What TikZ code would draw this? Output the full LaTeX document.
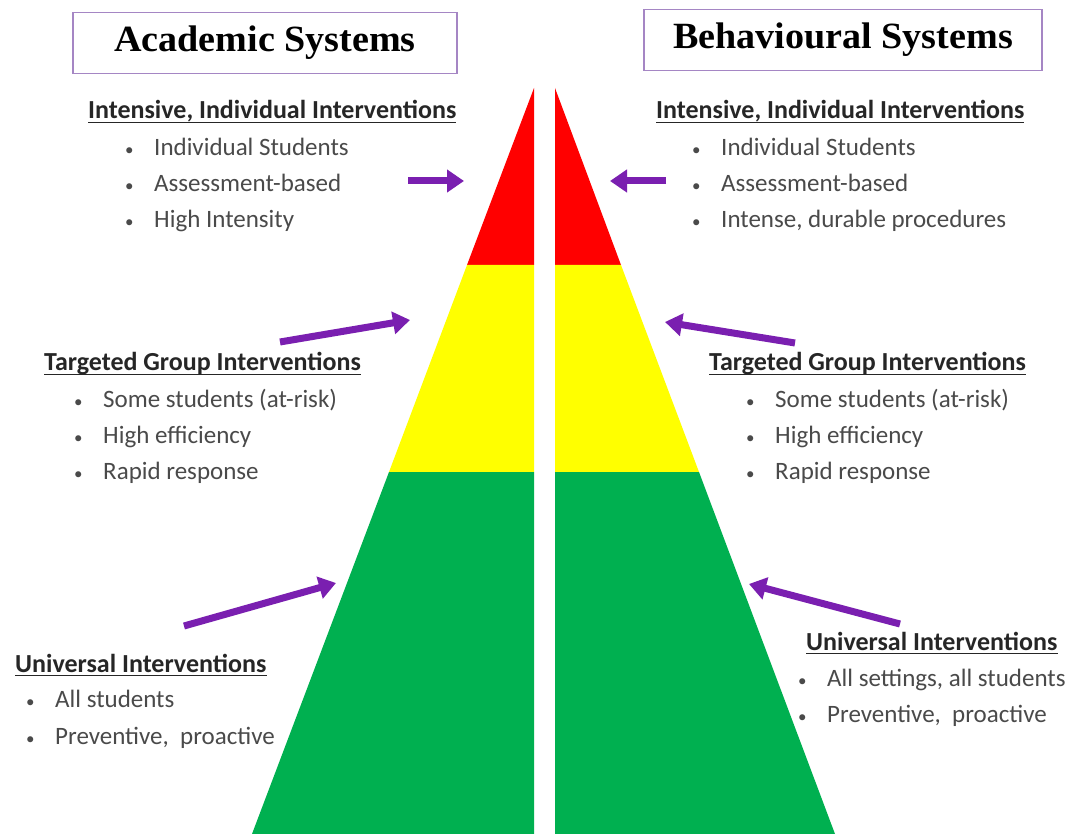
\documentclass[tikz,border=0pt]{standalone}
\usepackage{fontspec}
\setmainfont{Carlito}
\newfontfamily\titlefont[FakeStretch=1.03]{Liberation Serif}
\usetikzlibrary{arrows.meta}
\definecolor{pred}{HTML}{FF0000}
\definecolor{pyellow}{HTML}{FFFF00}
\definecolor{pgreen}{HTML}{00B050}
\definecolor{arrowpurple}{HTML}{7A1FB0}
\definecolor{boxpurple}{HTML}{A586C4}
\definecolor{headgray}{HTML}{262626}
\definecolor{itemgray}{HTML}{4A4A4A}
\tikzset{
  titlebox/.style={draw=boxpurple, line width=1.8pt, inner sep=0pt, font=\titlefont\bfseries\fontsize{37}{40}\selectfont, text=black},
  hd/.style={anchor=base west, inner sep=0pt, font=\fontsize{26}{30}\selectfont\bfseries, text=headgray},
  it/.style={anchor=base west, inner sep=0pt, font=\fontsize{25}{30}\selectfont, text=itemgray},
  ul/.style={draw=headgray, line width=1.6pt},
  arr/.style={draw=arrowpurple, line width=7pt, -{Triangle[length=17pt,width=22pt]}},
}
\newcommand\bul[1]{\makebox[29pt][l]{\fontsize{17}{20}\selectfont•}#1}
\begin{document}
\begin{tikzpicture}[x=1pt,y=-1pt]
\useasboundingbox (0,0) rectangle (1077,834);
\fill[white] (0,0) rectangle (1077,834);
% left half pyramid
\fill[pred] (534,88) -- (534,265) -- (467,265) -- cycle;
\fill[pyellow] (534,265) -- (534,472) -- (389,472) -- (467,265) -- cycle;
\fill[pgreen] (534,472) -- (534,834) -- (252,834) -- (389,472) -- cycle;
% right half pyramid
\fill[pred] (555,88) -- (555,265) -- (621,265) -- cycle;
\fill[pyellow] (555,265) -- (555,472) -- (699,472) -- (621,265) -- cycle;
\fill[pgreen] (555,472) -- (555,834) -- (835,834) -- (699,472) -- cycle;
% title boxes
\node[titlebox, minimum width=384pt, minimum height=61pt] (tA) at (265,43) {Academic Systems};
\node[titlebox, minimum width=398pt, minimum height=61pt] (tB) at (843,40) {Behavioural Systems};
% left top
\node[hd] (lh1) at (88,119) {Intensive, Individual Interventions};
\node[it] (l1a) at (125,156) {\bul{Individual Students}};
\node[it] (l1b) at (125,192) {\bul{Assessment-based}};
\node[it] (l1c) at (125,228) {\bul{High Intensity}};
% left middle
\node[hd] (lh2) at (44,371) {Targeted Group Interventions};
\node[it] (l2a) at (74,407) {\bul{Some students (at-risk)}};
\node[it] (l2b) at (74,443) {\bul{High efficiency}};
\node[it] (l2c) at (74,479) {\bul{Rapid response}};
% left bottom
\node[hd] (lh3) at (15,672) {Universal Interventions};
\node[it] (l3a) at (26,707) {\bul{All students}};
\node[it] (l3b) at (26,744) {\bul{Preventive,\ \ proactive}};
% right top
\node[hd] (rh1) at (656,119) {Intensive, Individual Interventions};
\node[it] (r1a) at (692,156) {\bul{Individual Students}};
\node[it] (r1b) at (692,192) {\bul{Assessment-based}};
\node[it] (r1c) at (692,228) {\bul{Intense, durable procedures}};
% right middle
\node[hd] (rh2) at (709,371) {Targeted Group Interventions};
\node[it] (r2a) at (746,407) {\bul{Some students (at-risk)}};
\node[it] (r2b) at (746,443) {\bul{High efficiency}};
\node[it] (r2c) at (746,479) {\bul{Rapid response}};
% right bottom
\node[hd] (rh3) at (806,650) {Universal Interventions};
\node[it] (r3a) at (798,686) {\bul{All settings, all students}};
\node[it] (r3b) at (798,722) {\bul{Preventive,\ \ proactive}};
% underlines
\foreach \h in {lh1,lh2,lh3,rh1,rh2,rh3}{
  \draw[ul] ([yshift=-3.5pt]\h.base west) -- ([yshift=-3.5pt]\h.base east);
}
% arrows
\coordinate (a1s) at (408,181); \coordinate (a1e) at (464,181);
\coordinate (a2s) at (280,342); \coordinate (a2e) at (410,320);
\coordinate (a3s) at (184,626); \coordinate (a3e) at (336,583);
\coordinate (b1s) at (666,181); \coordinate (b1e) at (610,181);
\coordinate (b2s) at (795,343); \coordinate (b2e) at (665,322);
\coordinate (b3s) at (900,624); \coordinate (b3e) at (749,584);
\draw[arr] (a1s) -- (a1e);
\draw[arr] (a2s) -- (a2e);
\draw[arr] (a3s) -- (a3e);
\draw[arr] (b1s) -- (b1e);
\draw[arr] (b2s) -- (b2e);
\draw[arr] (b3s) -- (b3e);
\end{tikzpicture}
\end{document}
